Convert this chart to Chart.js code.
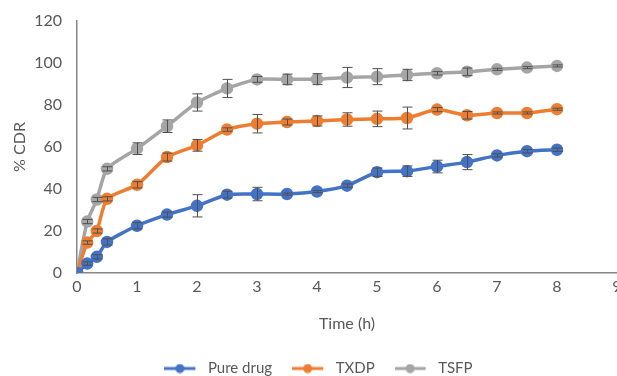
<!DOCTYPE html>
<html>
<head>
<meta charset="utf-8">
<script src="https://cdn.jsdelivr.net/npm/chart.js@4.4.1/dist/chart.umd.min.js"></script>
<style>
  html, body { margin: 0; padding: 0; background: #fff; overflow: hidden; }
  #wrap { width: 640px; height: 376px; }
</style>
</head>
<body>
<div id="wrap"><canvas id="myChart" width="640" height="376"></canvas></div>
<script>
var time = [0, 0.17, 0.33, 0.5, 1, 1.5, 2, 2.5, 3, 3.5, 4, 4.5, 5, 5.5, 6, 6.5, 7, 7.5, 8];
var pureDrug = [0, 4.5, 7.7, 14.8, 22.5, 27.8, 32, 37.3, 37.6, 37.6, 38.8, 41.6, 48, 48.5, 50.7, 52.8, 56, 58, 58.7];
var pureErr = [0, 0.8, 1, 1.5, 1.5, 1.2, 5.3, 1.6, 3.2, 0.5, 0.5, 0.8, 2, 2.5, 3, 3.6, 0.8, 0.8, 0.8];
var txdp = [0, 14.5, 20, 35.3, 42, 55.2, 60.8, 68.3, 71.1, 71.9, 72.4, 73.1, 73.4, 73.8, 77.8, 75.1, 76.2, 76.2, 78];
var txdpErr = [0, 0.8, 1, 1, 1.5, 1.9, 2.8, 0.8, 4.4, 1.4, 2.4, 3.2, 3.7, 5.2, 1, 1.8, 0.5, 0.5, 0.5];
var tsfp = [0, 24.5, 35, 49.6, 59.2, 69.9, 81.2, 87.9, 92.2, 92.2, 92.3, 93.1, 93.5, 94.3, 95.1, 95.8, 97, 97.8, 98.6];
var tsfpErr = [0, 1, 1, 1, 2.8, 3, 4.1, 4.3, 1.4, 2.5, 2.6, 4.8, 3.8, 2.7, 0.8, 1.8, 0.5, 0.5, 0.5];
var seriesNames = ["Pure drug", "TXDP", "TSFP"];
var colors = ["#4472C4", "#ED7D31", "#A5A5A5"];

function toPoints(values) {
  return values.map(function (v, i) {
    return { x: time[i], y: v };
  });
}

// legend icon: short line with a dot, like excel (extra blank space on the right)
function legendIcon(color) {
  var c = document.createElement("canvas");
  c.width = 36;
  c.height = 10;
  var g = c.getContext("2d");
  g.strokeStyle = color;
  g.lineWidth = 3;
  g.beginPath();
  g.moveTo(0, 5);
  g.lineTo(31, 5);
  g.stroke();
  g.fillStyle = color;
  g.beginPath();
  g.arc(15.5, 5, 4.5, 0, Math.PI * 2);
  g.fill();
  return c;
}

var errors = [pureErr, txdpErr, tsfpErr];

var errorBars = {
  id: "errorBars",
  afterDatasetsDraw: function (chart) {
    var ctx = chart.ctx;
    var xs = chart.scales.x;
    var ys = chart.scales.y;
    ctx.save();
    ctx.strokeStyle = "#505050";
    ctx.lineWidth = 1;
    chart.data.datasets.forEach(function (ds, d) {
      ds.data.forEach(function (p, i) {
        var e = errors[d][i];
        if (!e) return;
        var x = Math.round(xs.getPixelForValue(p.x)) + 0.5;
        var top = ys.getPixelForValue(p.y + e);
        var bot = ys.getPixelForValue(p.y - e);
        ctx.beginPath();
        ctx.moveTo(x, top);
        ctx.lineTo(x, bot);
        ctx.moveTo(x - 5, top);
        ctx.lineTo(x + 5, top);
        ctx.moveTo(x - 5, bot);
        ctx.lineTo(x + 5, bot);
        ctx.stroke();
      });
    });
    ctx.restore();
  },
};

// nudge legend a bit right, the excel legend isn't centred on the canvas
var legendShift = {
  id: "legendShift",
  afterLayout: function (chart) {
    chart.legend.left += 10;
    chart.legend.right += 10;
  },
};

var values = [pureDrug, txdp, tsfp];
var datasets = values.map(function (v, i) {
  return {
    label: seriesNames[i],
    data: toPoints(v),
    borderColor: colors[i],
    backgroundColor: colors[i],
    borderWidth: 3.5,
    pointRadius: 4.5,
    pointHoverRadius: 4.5,
    pointStyle: "circle",
    tension: 0.2,
  };
});

Chart.defaults.font.family = "Lato, 'Liberation Sans', sans-serif";
Chart.defaults.color = "#595959";

var ctx = document.getElementById("myChart").getContext("2d");
var myChart = new Chart(ctx, {
  type: "line",
  data: { datasets: datasets },
  plugins: [errorBars, legendShift],
  options: {
    responsive: false,
    animation: false,
    layout: { padding: { left: 0, top: 21, right: 23, bottom: -10 } },
    plugins: {
      tooltip: { enabled: false },
      legend: {
        position: "bottom",
        labels: {
          usePointStyle: true,
          pointStyleWidth: 36,
          padding: 20,
          font: { size: 15 },
          color: "#595959",
          generateLabels: function (chart) {
            return chart.data.datasets.map(function (ds, i) {
              return {
                text: ds.label,
                pointStyle: legendIcon(colors[i]),
                fillStyle: colors[i],
                strokeStyle: colors[i],
                lineWidth: 0,
                datasetIndex: i,
                fontColor: "#595959",
              };
            });
          },
        },
      },
    },
    scales: {
      x: {
        type: "linear",
        min: 0,
        max: 9,
        ticks: { stepSize: 1, padding: 4, font: { size: 16 } },
        grid: { display: false, drawTicks: false },
        border: { display: true, color: "#868686", width: 1.5 },
        title: { display: true, text: "Time (h)", font: { size: 16 }, padding: { top: 0, bottom: 8 } },
        afterFit: function (s) {
          s.height = 68;
          s.paddingLeft = 0;
          s.paddingRight = 0;
        },
      },
      y: {
        min: 0,
        max: 120,
        ticks: { stepSize: 20, padding: 15, font: { size: 16 } },
        grid: { display: false, drawTicks: false },
        border: { display: true, color: "#868686", width: 1.5 },
        title: { display: true, text: "% CDR", font: { size: 16 }, padding: { top: 10, bottom: 0 } },
        afterFit: function (s) {
          s.width = 77;
          s.paddingTop = 0;
          s.paddingBottom = 0;
        },
      },
    },
  },
});
</script>
</body>
</html>
